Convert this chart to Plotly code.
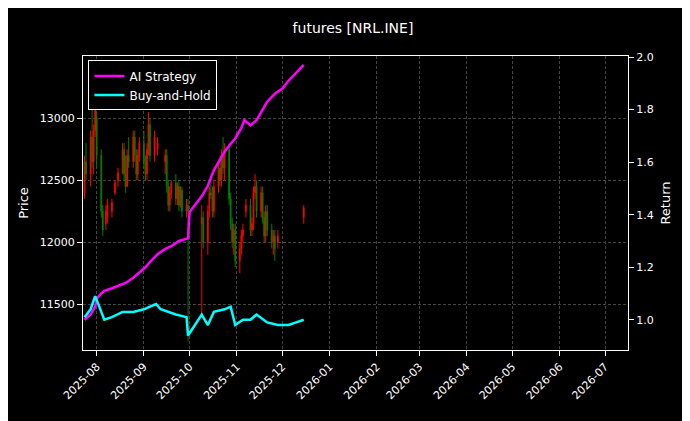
import plotly.graph_objects as go

# OHLC candles
candle_dates = [
    "2025-07-24", "2025-07-25", "2025-07-28", "2025-07-29", "2025-07-30", "2025-07-31", "2025-08-01",
    "2025-08-04", "2025-08-05", "2025-08-07", "2025-08-08", "2025-08-11", "2025-08-13", "2025-08-15",
    "2025-08-18", "2025-08-19", "2025-08-20", "2025-08-21", "2025-08-22", "2025-08-25", "2025-08-26",
    "2025-08-27", "2025-08-28", "2025-08-29", "2025-09-01", "2025-09-02", "2025-09-03", "2025-09-04",
    "2025-09-05", "2025-09-08", "2025-09-10", "2025-09-15", "2025-09-16", "2025-09-17", "2025-09-18",
    "2025-09-19", "2025-09-22", "2025-09-23", "2025-09-24", "2025-09-25", "2025-09-26", "2025-09-29",
    "2025-09-30", "2025-10-09", "2025-10-10", "2025-10-13", "2025-10-14", "2025-10-15", "2025-10-16",
    "2025-10-17", "2025-10-20", "2025-10-21", "2025-10-22", "2025-10-23", "2025-10-24", "2025-10-27",
    "2025-10-28", "2025-10-29", "2025-10-30", "2025-10-31", "2025-11-03", "2025-11-04", "2025-11-05",
    "2025-11-07", "2025-11-10", "2025-11-11", "2025-11-12", "2025-11-13", "2025-11-14", "2025-11-17",
    "2025-11-18", "2025-11-19", "2025-11-20", "2025-11-21", "2025-11-24", "2025-11-25", "2025-11-26",
    "2025-11-28", "2025-12-15",
]
opens = [12400, 12650, 12550, 12850, 12650, 12900, 13000, 12700, 12250, 12150, 12200, 12250, 12400, 12500,
         12560, 12750, 12550, 12450, 12700, 12650, 12850, 12700, 12550, 12700, 12800, 12650, 12550, 12750,
         12950, 12700, 12750, 12650, 12700, 12450, 12300, 12400, 12480, 12350, 12450, 12300, 12420, 12250,
         12300, 12150, 12200, 12000, 12250, 12400, 12380, 12250, 12450, 12600, 12500, 12700, 12600, 12750,
         12350, 12150, 12000, 12100, 11850, 11950, 12050, 12250, 12300, 12100, 12150, 12400, 12450, 12250,
         12400, 12200, 12050, 12250, 12100, 12000, 12050, 12000, 12200]
highs = [12700, 12800, 12900, 13100, 12950, 13200, 13050, 12750, 12300, 12300, 12350, 12350, 12500, 12600,
         12800, 12800, 12700, 12750, 12850, 12900, 12900, 12750, 12750, 12850, 12900, 12700, 12800, 13050,
         13000, 12900, 12850, 12750, 12750, 12500, 12450, 12500, 12550, 12480, 12500, 12450, 12450, 12350,
         12350, 12300, 12250, 12300, 12450, 12500, 12450, 12500, 12650, 12700, 12750, 12850, 12800, 12800,
         12400, 12200, 12150, 12150, 12000, 12100, 12150, 12350, 12350, 12200, 12450, 12550, 12500, 12450,
         12450, 12250, 12300, 12300, 12150, 12100, 12100, 12100, 12300]
lows = [12350, 12500, 12450, 12600, 12550, 12850, 12600, 12200, 12050, 12100, 12150, 12200, 12380, 12450,
        12550, 12500, 12400, 12450, 12600, 12600, 12650, 12500, 12500, 12650, 12600, 12500, 12500, 12700,
        12650, 12650, 12700, 12550, 12400, 12250, 12250, 12350, 12300, 12300, 12250, 12280, 12200, 12200,
        11200, 11400, 11950, 11900, 12200, 12350, 12200, 12200, 12400, 12450, 12450, 12550, 12500, 12300,
        12100, 11950, 11900, 11800, 11750, 11900, 12000, 12200, 12050, 12050, 12100, 12350, 12200, 12200,
        12150, 12000, 12000, 12050, 11950, 11900, 11850, 11950, 12150]
closes = [12650, 12550, 12850, 12650, 12900, 13100, 12700, 12250, 12100, 12250, 12300, 12320, 12480, 12560,
          12750, 12550, 12450, 12700, 12650, 12850, 12700, 12550, 12700, 12800, 12650, 12550, 12750, 12950,
          12700, 12850, 12800, 12700, 12450, 12300, 12400, 12480, 12350, 12450, 12300, 12420, 12250, 12300,
          12250, 12200, 12000, 12250, 12400, 12380, 12250, 12450, 12600, 12500, 12700, 12600, 12750, 12350,
          12150, 12000, 12100, 11850, 11950, 12050, 12100, 12300, 12100, 12150, 12400, 12450, 12250, 12400,
          12200, 12050, 12250, 12100, 12000, 12050, 11950, 12050, 12280]

# strategy returns
ai_dates = ["2025-07-24", "2025-07-28", "2025-07-31", "2025-08-01", "2025-08-04", "2025-08-06", "2025-08-11",
            "2025-08-15", "2025-08-20", "2025-08-25", "2025-08-29", "2025-09-02", "2025-09-05", "2025-09-10",
            "2025-09-15", "2025-09-19", "2025-09-24", "2025-09-30", "2025-10-01", "2025-10-09", "2025-10-13",
            "2025-10-17", "2025-10-21", "2025-10-24", "2025-10-28", "2025-10-31", "2025-11-04", "2025-11-06",
            "2025-11-10", "2025-11-14", "2025-11-18", "2025-11-21", "2025-11-26", "2025-12-01", "2025-12-05",
            "2025-12-10", "2025-12-15"]
ai_return = [1.0, 1.02, 1.05, 1.08, 1.10, 1.11, 1.12, 1.13, 1.14, 1.16, 1.18, 1.20, 1.22, 1.25,
             1.27, 1.28, 1.30, 1.31, 1.41, 1.47, 1.51, 1.57, 1.61, 1.64, 1.67, 1.69, 1.73, 1.76,
             1.74, 1.76, 1.80, 1.83, 1.86, 1.88, 1.91, 1.94, 1.97]
bh_dates = ["2025-07-24", "2025-07-28", "2025-07-31", "2025-08-04", "2025-08-06", "2025-08-11", "2025-08-18",
            "2025-08-25", "2025-09-01", "2025-09-05", "2025-09-09", "2025-09-12", "2025-09-22", "2025-09-29",
            "2025-09-30", "2025-10-09", "2025-10-13", "2025-10-17", "2025-10-24", "2025-10-28", "2025-10-31",
            "2025-11-05", "2025-11-10", "2025-11-14", "2025-11-21", "2025-11-28", "2025-12-05", "2025-12-10",
            "2025-12-15"]
bh_return = [1.01, 1.04, 1.09, 1.03, 1.0, 1.01, 1.03, 1.03, 1.04, 1.05, 1.06, 1.04, 1.02, 1.01,
             0.94, 1.02, 0.98, 1.03, 1.04, 1.05, 0.98, 1.0, 1.0, 1.02, 0.99, 0.98, 0.98, 0.99, 1.0]

fig = go.Figure()
fig.add_trace(go.Candlestick(
    x=candle_dates, open=opens, high=highs, low=lows, close=closes,
    increasing=dict(line=dict(color="red", width=1), fillcolor="red"),
    decreasing=dict(line=dict(color="green", width=1), fillcolor="green"),
    whiskerwidth=0, showlegend=False, yaxis="y",
))
fig.add_trace(go.Scatter(x=ai_dates, y=ai_return, mode="lines", name="AI Strategy",
                         line=dict(color="#ff00ff", width=2.5), yaxis="y2"))
fig.add_trace(go.Scatter(x=bh_dates, y=bh_return, mode="lines", name="Buy-and-Hold",
                         line=dict(color="#00ffff", width=2.5), yaxis="y2"))

grid = dict(showgrid=True, gridcolor="#444", griddash="3px,2px", gridwidth=0.5)
fig.update_layout(
    width=690, height=421,
    paper_bgcolor="black", plot_bgcolor="black",
    font=dict(family="DejaVu Sans", color="white", size=11),
    title=dict(text="futures [NRL.INE]", x=0.5, y=0.965, xanchor="center", font=dict(size=14)),
    margin=dict(l=75, r=70, t=48, b=79, autoexpand=False),
    xaxis=dict(type="date", range=["2025-07-23", "2026-07-16"], dtick="M1", tick0="2025-08-01",
               tickformat="%Y-%m", tickangle=-45, rangeslider=dict(visible=False), automargin=False,
               showline=True, linecolor="white", mirror=True, ticks="outside", tickcolor="white",
               **grid),
    yaxis=dict(title=dict(text="Price", standoff=8), range=[11131, 13503], tickvals=[11500, 12000, 12500, 13000],
               tickformat="d", automargin=False,
               showline=True, linecolor="white", ticks="outside", tickcolor="white", **grid),
    yaxis2=dict(title=dict(text="Return", standoff=8), overlaying="y", side="right", range=[0.885, 2.004],
                dtick=0.2, tickformat=".1f", showline=True, linecolor="white", ticks="outside",
                tickcolor="white", showgrid=False, automargin=False),
    legend=dict(x=0.01, y=0.985, xanchor="left", yanchor="top", bgcolor="black",
                bordercolor="white", borderwidth=1, font=dict(size=12)),
)
fig.write_html("out.html")
